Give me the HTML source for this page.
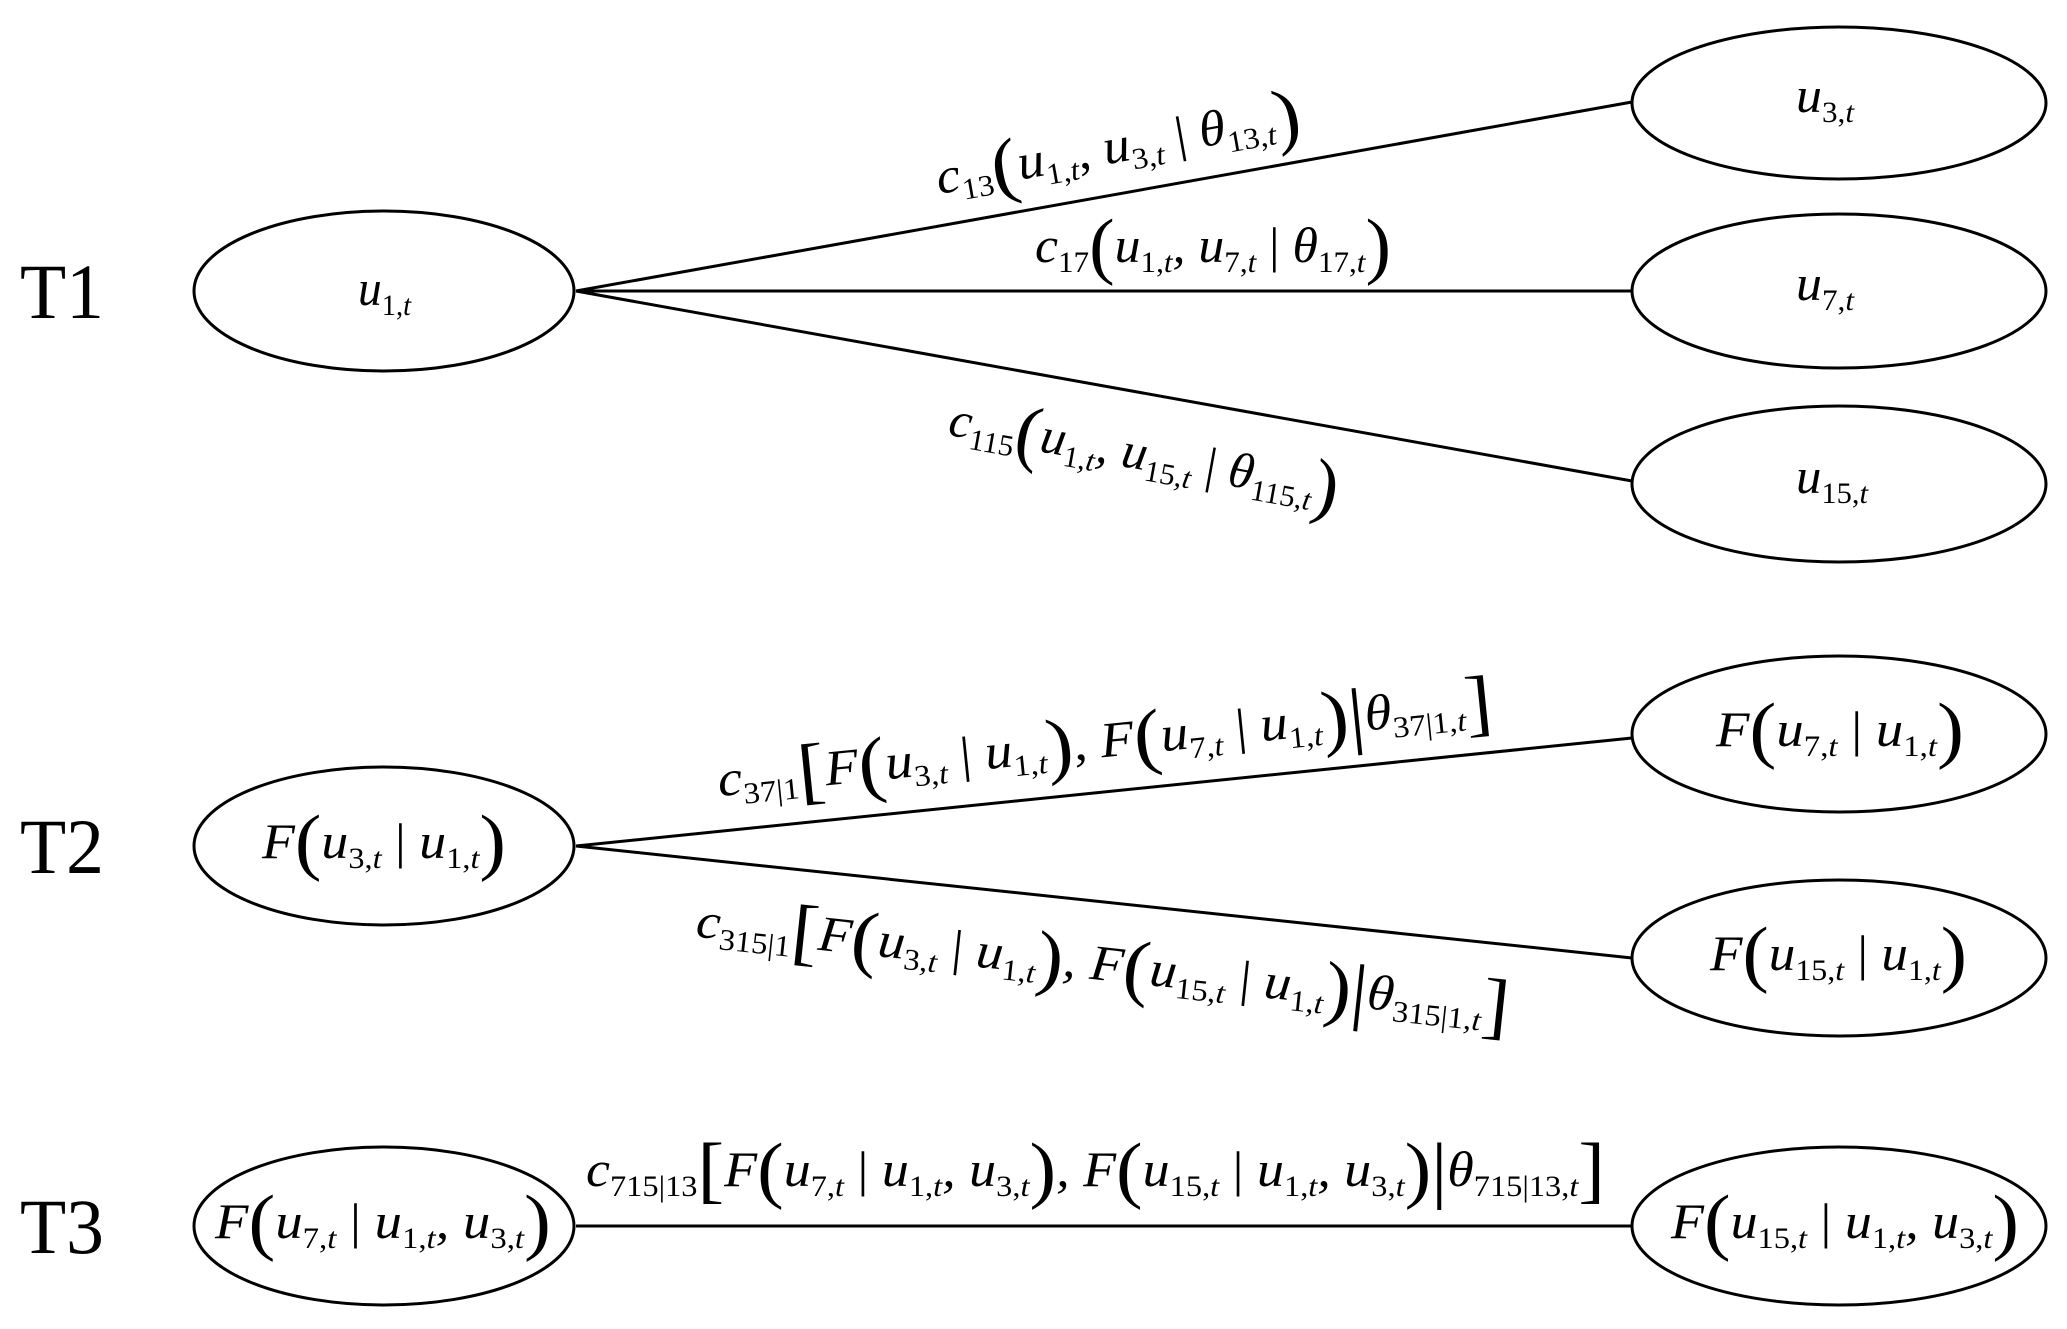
<!DOCTYPE html>
<html><head><meta charset="utf-8"><style>
html,body{margin:0;padding:0;background:#fff}
svg{display:block}
text{font-family:"Liberation Serif",serif;font-style:italic;fill:#000}
.s{font-size:30px;font-style:normal}
.si{font-size:30px}
.p{font-size:74px;font-style:normal}
.n{font-style:normal}
.T{font-style:normal;font-size:78px}
</style></head><body>
<svg width="2067" height="1329" viewBox="0 0 2067 1329" xmlns="http://www.w3.org/2000/svg">
<g fill="none" stroke="#000" stroke-width="3">
<ellipse cx="384" cy="291" rx="190" ry="80"/>
<ellipse cx="1839" cy="103" rx="207" ry="76"/>
<ellipse cx="1839" cy="291" rx="207" ry="77"/>
<ellipse cx="1839" cy="484" rx="207" ry="78"/>
<ellipse cx="384" cy="846" rx="190" ry="79"/>
<ellipse cx="1839" cy="734" rx="207" ry="78"/>
<ellipse cx="1839" cy="958" rx="207" ry="78"/>
<ellipse cx="384" cy="1226" rx="190" ry="79"/>
<ellipse cx="1839" cy="1226" rx="207" ry="79"/>
<line x1="576" y1="291" x2="1632" y2="102"/>
<line x1="576" y1="291" x2="1632" y2="291"/>
<line x1="576" y1="291" x2="1632" y2="481"/>
<line x1="576" y1="846" x2="1632" y2="738"/>
<line x1="576" y1="846" x2="1632" y2="958"/>
<line x1="576" y1="1226" x2="1632" y2="1226"/>
</g>
<text class="T" x="20" y="318" textLength="84" lengthAdjust="spacingAndGlyphs">T1</text>
<text class="T" x="20" y="873" textLength="84" lengthAdjust="spacingAndGlyphs">T2</text>
<text class="T" x="20" y="1253" textLength="84" lengthAdjust="spacingAndGlyphs">T3</text>

<text x="358" y="305" font-size="50" textLength="53" lengthAdjust="spacingAndGlyphs">u<tspan class="s" dy="10">1,</tspan><tspan class="si">t</tspan></text>
<text x="1796" y="112" font-size="50" textLength="58" lengthAdjust="spacingAndGlyphs">u<tspan class="s" dy="10">3,</tspan><tspan class="si">t</tspan></text>
<text x="1796" y="300" font-size="50" textLength="58" lengthAdjust="spacingAndGlyphs">u<tspan class="s" dy="10">7,</tspan><tspan class="si">t</tspan></text>
<text x="1796" y="493" font-size="50" textLength="72" lengthAdjust="spacingAndGlyphs">u<tspan class="s" dy="10">15,</tspan><tspan class="si">t</tspan></text>

<text x="262" y="858" font-size="50" textLength="244" lengthAdjust="spacingAndGlyphs">F<tspan class="p" dy="8">(</tspan><tspan dy="-8">u</tspan><tspan class="s" dy="10">3,</tspan><tspan class="si">t</tspan><tspan class="n" dy="-10"> | </tspan>u<tspan class="s" dy="10">1,</tspan><tspan class="si">t</tspan><tspan class="p" dy="-2">)</tspan></text>
<text x="1716" y="746" font-size="50" textLength="248" lengthAdjust="spacingAndGlyphs">F<tspan class="p" dy="8">(</tspan><tspan dy="-8">u</tspan><tspan class="s" dy="10">7,</tspan><tspan class="si">t</tspan><tspan class="n" dy="-10"> | </tspan>u<tspan class="s" dy="10">1,</tspan><tspan class="si">t</tspan><tspan class="p" dy="-2">)</tspan></text>
<text x="1710" y="970" font-size="50" textLength="257" lengthAdjust="spacingAndGlyphs">F<tspan class="p" dy="8">(</tspan><tspan dy="-8">u</tspan><tspan class="s" dy="10">15,</tspan><tspan class="si">t</tspan><tspan class="n" dy="-10"> | </tspan>u<tspan class="s" dy="10">1,</tspan><tspan class="si">t</tspan><tspan class="p" dy="-2">)</tspan></text>
<text x="215" y="1238" font-size="50" textLength="336" lengthAdjust="spacingAndGlyphs">F<tspan class="p" dy="8">(</tspan><tspan dy="-8">u</tspan><tspan class="s" dy="10">7,</tspan><tspan class="si">t</tspan><tspan class="n" dy="-10"> | </tspan>u<tspan class="s" dy="10">1,</tspan><tspan class="si">t</tspan><tspan dy="-10">, u</tspan><tspan class="s" dy="10">3,</tspan><tspan class="si">t</tspan><tspan class="p" dy="-2">)</tspan></text>
<text x="1671" y="1238" font-size="50" textLength="348" lengthAdjust="spacingAndGlyphs">F<tspan class="p" dy="8">(</tspan><tspan dy="-8">u</tspan><tspan class="s" dy="10">15,</tspan><tspan class="si">t</tspan><tspan class="n" dy="-10"> | </tspan>u<tspan class="s" dy="10">1,</tspan><tspan class="si">t</tspan><tspan dy="-10">, u</tspan><tspan class="s" dy="10">3,</tspan><tspan class="si">t</tspan><tspan class="p" dy="-2">)</tspan></text>

<g transform="translate(1118,150) rotate(-10.1)">
<text x="-184" y="12" font-size="50" textLength="369" lengthAdjust="spacingAndGlyphs">c<tspan class="s" dy="10">13</tspan><tspan class="p" dy="-2">(</tspan><tspan dy="-8">u</tspan><tspan class="s" dy="10">1,</tspan><tspan class="si">t</tspan><tspan dy="-10">, u</tspan><tspan class="s" dy="10">3,</tspan><tspan class="si">t</tspan><tspan class="n" dy="-10"> | </tspan>θ<tspan class="s" dy="10">13,</tspan><tspan class="si">t</tspan><tspan class="p" dy="-2">)</tspan></text>
</g>
<g transform="translate(1213,250)">
<text x="-178" y="12" font-size="50" textLength="356" lengthAdjust="spacingAndGlyphs">c<tspan class="s" dy="10">17</tspan><tspan class="p" dy="-2">(</tspan><tspan dy="-8">u</tspan><tspan class="s" dy="10">1,</tspan><tspan class="si">t</tspan><tspan dy="-10">, u</tspan><tspan class="s" dy="10">7,</tspan><tspan class="si">t</tspan><tspan class="n" dy="-10"> | </tspan>θ<tspan class="s" dy="10">17,</tspan><tspan class="si">t</tspan><tspan class="p" dy="-2">)</tspan></text>
</g>
<g transform="translate(1144,458) rotate(10.2)">
<text x="-198" y="12" font-size="50" textLength="395" lengthAdjust="spacingAndGlyphs">c<tspan class="s" dy="10">115</tspan><tspan class="p" dy="-2">(</tspan><tspan dy="-8">u</tspan><tspan class="s" dy="10">1,</tspan><tspan class="si">t</tspan><tspan dy="-10">, u</tspan><tspan class="s" dy="10">15,</tspan><tspan class="si">t</tspan><tspan class="n" dy="-10"> | </tspan>θ<tspan class="s" dy="10">115,</tspan><tspan class="si">t</tspan><tspan class="p" dy="-2">)</tspan></text>
</g>
<g transform="translate(1105,745) rotate(-5.8)">
<text x="-389" y="12" font-size="50" textLength="778" lengthAdjust="spacingAndGlyphs">c<tspan class="s" dy="10">37|1</tspan><tspan class="p" dy="-2">[</tspan><tspan dy="-8">F</tspan><tspan class="p" dy="8">(</tspan><tspan dy="-8">u</tspan><tspan class="s" dy="10">3,</tspan><tspan class="si">t</tspan><tspan class="n" dy="-10"> | </tspan>u<tspan class="s" dy="10">1,</tspan><tspan class="si">t</tspan><tspan class="p" dy="-2">)</tspan><tspan dy="-8">, F</tspan><tspan class="p" dy="8">(</tspan><tspan dy="-8">u</tspan><tspan class="s" dy="10">7,</tspan><tspan class="si">t</tspan><tspan class="n" dy="-10"> | </tspan>u<tspan class="s" dy="10">1,</tspan><tspan class="si">t</tspan><tspan class="p" dy="-2">)|</tspan><tspan dy="-8">θ</tspan><tspan class="s" dy="10">37|1,</tspan><tspan class="si">t</tspan><tspan class="p" dy="-2">]</tspan></text>
</g>
<g transform="translate(1102,968) rotate(6.1)">
<text x="-408" y="12" font-size="50" textLength="817" lengthAdjust="spacingAndGlyphs">c<tspan class="s" dy="10">315|1</tspan><tspan class="p" dy="-2">[</tspan><tspan dy="-8">F</tspan><tspan class="p" dy="8">(</tspan><tspan dy="-8">u</tspan><tspan class="s" dy="10">3,</tspan><tspan class="si">t</tspan><tspan class="n" dy="-10"> | </tspan>u<tspan class="s" dy="10">1,</tspan><tspan class="si">t</tspan><tspan class="p" dy="-2">)</tspan><tspan dy="-8">, F</tspan><tspan class="p" dy="8">(</tspan><tspan dy="-8">u</tspan><tspan class="s" dy="10">15,</tspan><tspan class="si">t</tspan><tspan class="n" dy="-10"> | </tspan>u<tspan class="s" dy="10">1,</tspan><tspan class="si">t</tspan><tspan class="p" dy="-2">)|</tspan><tspan dy="-8">θ</tspan><tspan class="s" dy="10">315|1,</tspan><tspan class="si">t</tspan><tspan class="p" dy="-2">]</tspan></text>
</g>
<g transform="translate(1095,1174)">
<text x="-509" y="12" font-size="50" textLength="1019" lengthAdjust="spacingAndGlyphs">c<tspan class="s" dy="10">715|13</tspan><tspan class="p" dy="-2">[</tspan><tspan dy="-8">F</tspan><tspan class="p" dy="8">(</tspan><tspan dy="-8">u</tspan><tspan class="s" dy="10">7,</tspan><tspan class="si">t</tspan><tspan class="n" dy="-10"> | </tspan>u<tspan class="s" dy="10">1,</tspan><tspan class="si">t</tspan><tspan dy="-10">, u</tspan><tspan class="s" dy="10">3,</tspan><tspan class="si">t</tspan><tspan class="p" dy="-2">)</tspan><tspan dy="-8">, F</tspan><tspan class="p" dy="8">(</tspan><tspan dy="-8">u</tspan><tspan class="s" dy="10">15,</tspan><tspan class="si">t</tspan><tspan class="n" dy="-10"> | </tspan>u<tspan class="s" dy="10">1,</tspan><tspan class="si">t</tspan><tspan dy="-10">, u</tspan><tspan class="s" dy="10">3,</tspan><tspan class="si">t</tspan><tspan class="p" dy="-2">)|</tspan><tspan dy="-8">θ</tspan><tspan class="s" dy="10">715|13,</tspan><tspan class="si">t</tspan><tspan class="p" dy="-2">]</tspan></text>
</g>
</svg>
</body></html>
